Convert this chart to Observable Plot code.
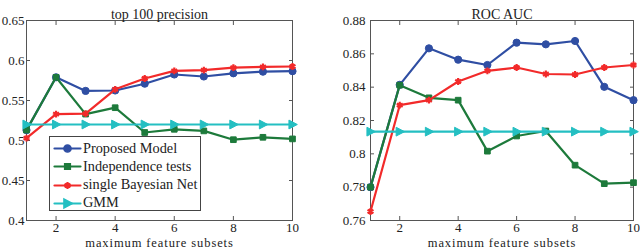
<!DOCTYPE html>
<html><head><meta charset="utf-8">
<script src="https://cdn.jsdelivr.net/npm/d3@7"></script>
<script src="https://cdn.jsdelivr.net/npm/@observablehq/plot@0.6"></script>
<style>
body{margin:0;background:#fff;}
#wrap{position:relative;width:640px;height:248px;display:flex;font-family:"Liberation Serif","Times New Roman","DejaVu Serif",serif;}
#legend{position:absolute;left:49px;top:136px;width:150px;height:73px;border:1px solid #444;background:#fff;font-size:14.3px;color:#222;font-family:"Liberation Serif","Times New Roman",serif;}
#legend .row{position:absolute;left:4px;height:18px;display:flex;align-items:center;white-space:nowrap;}
#legend svg{margin-right:3px;}
svg text{font-family:"Liberation Serif","Times New Roman",serif;}
</style></head>
<body>
<div id="wrap"><div id="left"></div><div id="right"></div><div id="legend"></div></div>
<script>
const xs = [1,2,3,4,5,6,7,8,9,10];
const seriesNames = ["Proposed Model","Independence tests","single Bayesian Net","GMM"];
const seriesColors = ["#2f4ea3","#1d7a3b","#f22a2a","#24bfc2"];
const precProposed = [0.513,0.579,0.562,0.5625,0.571,0.5825,0.580,0.584,0.586,0.5866];
const precIndep    = [0.513,0.579,0.533,0.541,0.510,0.514,0.512,0.501,0.504,0.502];
const precBayes    = [0.503,0.533,0.5335,0.564,0.5775,0.587,0.588,0.591,0.592,0.5925];
const precGMM      = [0.520,0.520,0.520,0.520,0.520,0.520,0.520,0.520,0.520,0.520];
const aucProposed  = [0.780,0.8414,0.8633,0.8565,0.8533,0.8667,0.8657,0.8677,0.8402,0.8322];
const aucIndep     = [0.780,0.8412,0.8336,0.8322,0.8016,0.8107,0.8137,0.7932,0.7821,0.7827];
const aucBayes     = [0.7654,0.8292,0.8322,0.8434,0.8498,0.8518,0.8479,0.8476,0.8518,0.8533];
const aucGMM       = [0.8133,0.8133,0.8133,0.8133,0.8133,0.8133,0.8133,0.8133,0.8133,0.8133];
const xTicks = [2,4,6,8,10];
const precTicks = [0.4,0.45,0.5,0.55,0.6,0.65];
const aucTicks = [0.76,0.78,0.8,0.82,0.84,0.86,0.88];

const FF = "Liberation Serif, Times New Roman, serif";
const triRight = {draw(ctx, size){const r=Math.sqrt(size/Math.PI); ctx.moveTo(r*1.15,0); ctx.lineTo(-r*0.85,-r*1.05); ctx.lineTo(-r*0.85,r*1.05); ctx.closePath();}};
const symbols = ["circle","square","asterisk",triRight];
const radii = [3.6,3.2,3.2,4.2];

function table(arrs){
  const rows=[];
  arrs.forEach((a,si)=>a.forEach((v,i)=>rows.push({x:xs[i],y:v,s:si})));
  return rows;
}
const fmt = d => String(+d.toFixed(2));

function chart(arrs, yDomain, yTicks, title, ml, mr, yPad){
  const rows = table(arrs);
  const marks = [
    Plot.frame({stroke:"#555", strokeWidth:1}),
    Plot.axisX({anchor:"bottom", ticks:xTicks, tickSize:-4, tickPadding:6, fontSize:13, fontFamily:FF, stroke:"#555", label:"maximum feature subsets", labelAnchor:"center", labelOffset:26, labelArrow:"none"}),
    Plot.axisX({anchor:"top", ticks:xTicks, tickSize:-4, stroke:"#555", tickFormat:()=>"", label:null}),
    Plot.axisY({anchor:"left", ticks:yTicks, tickSize:-4, tickPadding:yPad, stroke:"#555", tickFormat:fmt, fontSize:13, fontFamily:FF, label:null}),
    Plot.axisY({anchor:"right", ticks:yTicks, tickSize:-4, stroke:"#555", tickFormat:()=>"", label:null}),
    Plot.text([title], {frameAnchor:"top", dy:-11, fontSize:14, fontFamily:FF, fill:"#222"})
  ];
  arrs.forEach((a,si)=>{
    const d = rows.filter(r=>r.s===si);
    marks.push(Plot.line(d,{x:"x",y:"y",stroke:seriesColors[si],strokeWidth:2.2}));
    if (si===2) marks.push(Plot.dot(d,{x:"x",y:"y",symbol:symbols[si],r:radii[si],stroke:seriesColors[si],strokeWidth:2.2}));
    else marks.push(Plot.dot(d,{x:"x",y:"y",symbol:symbols[si],r:radii[si],fill:seriesColors[si],stroke:seriesColors[si],strokeWidth:1}));
  });
  const svg = Plot.plot({
    width:320, height:248,
    marginLeft:ml, marginRight:mr, marginTop:20, marginBottom:28,
    style:"font-family:'Liberation Serif','Times New Roman',serif;font-size:13px;color:#222;background:transparent;overflow:visible;",
    x:{domain:[1,10]},
    y:{domain:yDomain},
    marks
  });
  svg.querySelectorAll("text").forEach(t=>{ if (t.textContent==="maximum feature subsets") { t.setAttribute("font-size","12.5"); t.setAttribute("letter-spacing","0.9"); } });
  return svg;
}
document.getElementById("left").appendChild(chart([precProposed,precIndep,precBayes,precGMM],[0.4,0.65],precTicks,"top 100 precision",26,28,6));
document.getElementById("right").appendChild(chart([aucProposed,aucIndep,aucBayes,aucGMM],[0.76,0.88],aucTicks,"ROC AUC",50,7,9));

// legend
const leg = document.getElementById("legend");
seriesNames.forEach((name,si)=>{
  const row = document.createElement("div");
  row.className="row";
  row.style.top = (2 + si*18.3) + "px";
  const svg = Plot.plot({width:26,height:18,margin:0,x:{domain:[0,1],axis:null},y:{domain:[0,1],axis:null},
    style:"background:transparent;overflow:visible;",
    marks:[
      Plot.line([{x:0,y:0.5},{x:1,y:0.5}],{x:"x",y:"y",stroke:seriesColors[si],strokeWidth:2.2}),
      si===2 ? Plot.dot([{x:0.5,y:0.5}],{x:"x",y:"y",symbol:symbols[si],r:radii[si],stroke:seriesColors[si],strokeWidth:2.2})
             : Plot.dot([{x:0.5,y:0.5}],{x:"x",y:"y",symbol:symbols[si],r:radii[si],fill:seriesColors[si],stroke:seriesColors[si]})
    ]});
  row.appendChild(svg);
  const t = document.createElement("span");
  t.textContent = name;
  row.appendChild(t);
  leg.appendChild(row);
});
</script>
</body></html>
